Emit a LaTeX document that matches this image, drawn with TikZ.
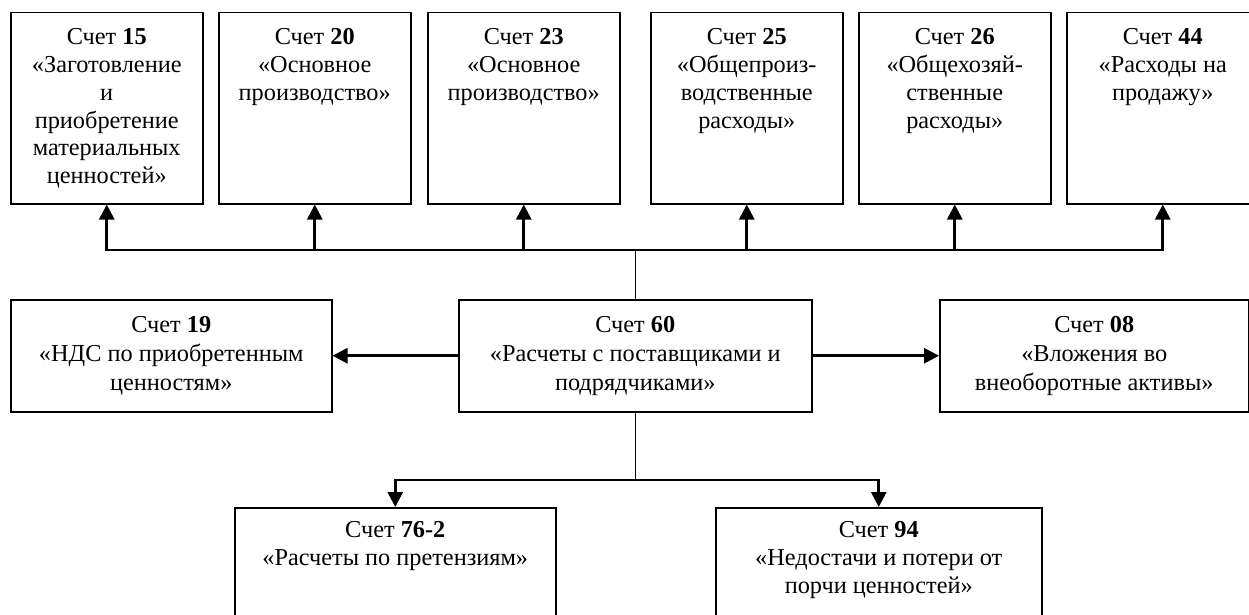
\documentclass[tikz,border=0pt]{standalone}
\usepackage{fontspec}
\setmainfont{Liberation Serif}
\usetikzlibrary{arrows.meta}
\begin{document}
\begin{tikzpicture}[x=1pt,y=-1pt,
  acct/.style={draw, line width=1.5pt, inner sep=0pt, align=center,
    font=\fontsize{24.3}{29.2}\selectfont},
  acctxt/.style={inner sep=0pt, align=center, anchor=north,
    font=\fontsize{24.3}{27.8}\selectfont},
  feed/.style={line width=2.8pt, -{Triangle[length=15pt,width=15pt]}},
  stem/.style={line width=1.3pt}]
\clip (0,0) rectangle (1249,615);
\fill[white] (0,0) rectangle (1249,615);

% upper row of accounts
\foreach \nm/\xl in {15/10, 20/218, 23/427, 25/650, 26/858, 44/1066}
  \node[acct, minimum width=192pt, minimum height=191pt, anchor=north west]
    (b\nm) at (\xl,12) {};
\node[acctxt] (t15) at ([yshift=-16.5pt]b15.north)
  {Счет \textbf{15}\\«Заготовление\\и\\приобретение\\материальных\\ценностей»};
\node[acctxt] (t20) at ([yshift=-16.5pt]b20.north)
  {Счет \textbf{20}\\«Основное\\производство»};
\node[acctxt] (t23) at ([yshift=-16.5pt]b23.north)
  {Счет \textbf{23}\\«Основное\\производство»};
\node[acctxt] (t25) at ([yshift=-16.5pt]b25.north)
  {Счет \textbf{25}\\«Общепроиз-\\водственные\\расходы»};
\node[acctxt] (t26) at ([yshift=-16.5pt]b26.north)
  {Счет \textbf{26}\\«Общехозяй-\\ственные\\расходы»};
\node[acctxt] (t44) at ([yshift=-16.5pt]b44.north)
  {Счет \textbf{44}\\«Расходы на\\продажу»};

% middle row
\node[acct, minimum width=321pt, minimum height=112pt, anchor=north west]
  (b19) at (10,299) {Счет \textbf{19}\\«НДС по приобретенным\\ценностям»};
\node[acct, minimum width=353pt, minimum height=112pt, anchor=north west]
  (b60) at (458,299) {Счет \textbf{60}\\«Расчеты с поставщиками и\\подрядчиками»};
\node[acct, minimum width=309pt, minimum height=112pt, anchor=north west]
  (b08) at (939,299) {Счет \textbf{08}\\«Вложения во\\внеоборотные активы»};

% lower row
\node[acct, minimum width=321pt, minimum height=140pt, anchor=north west]
  (b76) at (234,507) {};
\node[acct, minimum width=326pt, minimum height=140pt, anchor=north west]
  (b94) at (715,507) {};
\node[acctxt] (t76) at ([yshift=-14.5pt]b76.north)
  {Счет \textbf{76-2}\\«Расчеты по претензиям»};
\node[acctxt] (t94) at ([yshift=-14.5pt]b94.north)
  {Счет \textbf{94}\\«Недостачи и потери от\\порчи ценностей»};

% connectors
\coordinate (tbus) at (b60.north |- 0,250);
\coordinate (bbus) at (b60.south |- 0,480);
\draw[stem] (b60.north) -- (tbus);
\draw[stem] (b60.south) -- (bbus);
\foreach \nm in {15,20,23,25,26,44}
  \draw[feed] (tbus) -| (b\nm.south);
\draw[feed] (bbus) -| (b76.north);
\draw[feed] (bbus) -| (b94.north);
\draw[feed] (b60.west) -- (b19.east);
\draw[feed] (b60.east) -- (b08.west);
\end{tikzpicture}
\end{document}
